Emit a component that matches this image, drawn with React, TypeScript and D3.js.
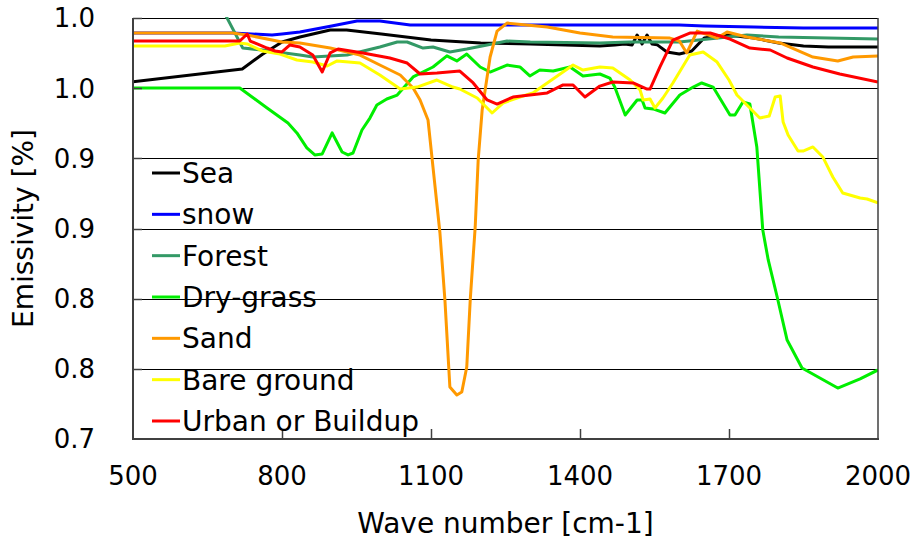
import React from "react";
import * as d3 from "d3";

type Pt = [number, number];

const seaData: Pt[] = [
  [500, 0.9545], [720, 0.9637], [760, 0.974], [800, 0.9829], [836, 0.9865], [897, 0.9914], [930, 0.9914],
  [1000, 0.9886], [1100, 0.9843], [1200, 0.9822], [1300, 0.9815], [1440, 0.98], [1470, 0.9808],
  [1490, 0.9815], [1505, 0.9808], [1515, 0.9879], [1525, 0.9815], [1535, 0.9879], [1545, 0.9815],
  [1555, 0.981], [1575, 0.9758], [1600, 0.9743], [1625, 0.9765], [1650, 0.9857], [1696, 0.9879],
  [1750, 0.9857], [1800, 0.9822], [1850, 0.98], [1900, 0.9793], [1950, 0.9793], [2000, 0.9793],
];

const snowData: Pt[] = [
  [500, 0.9893], [700, 0.9893], [780, 0.9879], [800, 0.9886], [836, 0.99], [900, 0.9943], [951, 0.9979],
  [997, 0.9979], [1058, 0.995], [1100, 0.995], [1200, 0.995], [1440, 0.995], [1600, 0.995],
  [1650, 0.9943], [1750, 0.9936], [1850, 0.9929], [2000, 0.9929],
];

const forestData: Pt[] = [
  [685, 1.003], [721, 0.9786], [760, 0.9772], [836, 0.9736], [862, 0.9722], [931, 0.9736], [997, 0.9793],
  [1032, 0.9829], [1052, 0.9829], [1084, 0.9786], [1104, 0.9793], [1138, 0.9758], [1172, 0.9779],
  [1213, 0.9808], [1253, 0.9836], [1300, 0.9829], [1440, 0.9822], [1500, 0.9829], [1600, 0.9829],
  [1736, 0.9879], [1800, 0.9865], [2000, 0.985],
];

const dryGrassData: Pt[] = [
  [500, 0.9501], [715, 0.9501], [770, 0.9359], [812, 0.9252], [830, 0.9181], [850, 0.9074], [866, 0.9024],
  [881, 0.9031], [901, 0.9181], [921, 0.9045], [933, 0.9024], [943, 0.9038], [961, 0.9202], [977, 0.9287],
  [991, 0.938], [1011, 0.9423], [1032, 0.9451], [1064, 0.958], [1104, 0.9651], [1132, 0.973],
  [1152, 0.9694], [1172, 0.9743], [1199, 0.9651], [1219, 0.9615], [1253, 0.9665], [1279, 0.9651],
  [1299, 0.9587], [1319, 0.9629], [1346, 0.9622], [1380, 0.9651], [1406, 0.9587], [1440, 0.9601],
  [1460, 0.9572], [1470, 0.9508], [1491, 0.9309], [1515, 0.9416], [1525, 0.9416], [1531, 0.9359],
  [1547, 0.9352], [1571, 0.9323], [1601, 0.9451], [1628, 0.9508], [1645, 0.9537], [1668, 0.9508],
  [1702, 0.9309], [1712, 0.9309], [1728, 0.9402], [1742, 0.9387], [1756, 0.9081], [1768, 0.8489],
  [1779, 0.8276], [1797, 0.8012], [1817, 0.7705], [1847, 0.7506], [1883, 0.7435], [1919, 0.7363],
  [1964, 0.7428], [2000, 0.7492],
];

const sandData: Pt[] = [
  [500, 0.9893], [700, 0.9893], [730, 0.9879], [800, 0.9829], [836, 0.9822], [897, 0.9786], [957, 0.9736],
  [997, 0.9665], [1038, 0.9594], [1064, 0.9501], [1078, 0.9416], [1094, 0.9273], [1104, 0.8938],
  [1118, 0.8468], [1128, 0.7991], [1138, 0.7371], [1152, 0.7314], [1162, 0.7335], [1172, 0.7513],
  [1179, 0.7991], [1189, 0.8511], [1195, 0.8988], [1203, 0.9344], [1219, 0.9722], [1233, 0.9907],
  [1253, 0.9964], [1334, 0.9936], [1400, 0.9893], [1466, 0.9865], [1581, 0.9857], [1600, 0.9836],
  [1615, 0.9751], [1636, 0.9907], [1676, 0.9857], [1696, 0.99], [1736, 0.9865], [1803, 0.9822],
  [1869, 0.9722], [1919, 0.9694], [1950, 0.9722], [2000, 0.9729],
];

const bareGroundData: Pt[] = [
  [500, 0.98], [685, 0.98], [715, 0.9822], [730, 0.9815], [760, 0.9765], [796, 0.9743], [830, 0.9701],
  [862, 0.9686], [891, 0.9658], [911, 0.9694], [957, 0.9679], [997, 0.9594], [1038, 0.9494],
  [1072, 0.9508], [1112, 0.9558], [1144, 0.9508], [1158, 0.9494], [1193, 0.943], [1223, 0.9323],
  [1245, 0.9394], [1279, 0.9437], [1305, 0.9466], [1334, 0.9537], [1386, 0.9665], [1406, 0.9629],
  [1440, 0.9651], [1466, 0.9644], [1501, 0.9558], [1521, 0.9487], [1527, 0.9416], [1541, 0.9423],
  [1551, 0.9359], [1567, 0.943], [1587, 0.9537], [1621, 0.9736], [1648, 0.9758], [1676, 0.9686],
  [1700, 0.9558], [1716, 0.9451], [1762, 0.9287], [1781, 0.9302], [1793, 0.9437], [1803, 0.9444],
  [1809, 0.9259], [1819, 0.9166], [1839, 0.9052], [1849, 0.9052], [1869, 0.9081], [1889, 0.9009],
  [1909, 0.8867], [1929, 0.8753], [1964, 0.8717], [1978, 0.871], [2000, 0.8682],
];

const urbanData: Pt[] = [
  [500, 0.9836], [715, 0.9836], [730, 0.9886], [736, 0.9836], [750, 0.9815], [770, 0.9786], [786, 0.9765],
  [800, 0.9758], [816, 0.9808], [836, 0.9793], [862, 0.9736], [881, 0.9615], [897, 0.9751], [913, 0.9779],
  [963, 0.9751], [1017, 0.9715], [1052, 0.9679], [1078, 0.9601], [1112, 0.9608], [1158, 0.9622],
  [1185, 0.9537], [1213, 0.9416], [1233, 0.9387], [1265, 0.9437], [1299, 0.9451], [1334, 0.9466],
  [1366, 0.9523], [1386, 0.9523], [1410, 0.9437], [1440, 0.9515], [1466, 0.9544], [1507, 0.9537],
  [1535, 0.9494], [1541, 0.9494], [1561, 0.9651], [1587, 0.9843], [1621, 0.9893], [1662, 0.9893],
  [1702, 0.985], [1742, 0.9786], [1783, 0.9772], [1817, 0.9715], [1869, 0.9651], [1923, 0.9601],
  [2000, 0.9544],
];

const seriesNames = ["Sea", "snow", "Forest", "Dry-grass", "Sand", "Bare ground", "Urban or Buildup"];
const seriesColors = ["#000000", "#0000ff", "#339966", "#00ee00", "#ff9900", "#ffff00", "#ff0000"];
const seriesData = [seaData, snowData, forestData, dryGrassData, sandData, bareGroundData, urbanData];

const xTicks = [500, 800, 1100, 1400, 1700, 2000];
const yTicks = [0.7, 0.75, 0.8, 0.85, 0.9, 0.95, 1.0];
const yTickLabels = ["0.7", "0.8", "0.8", "0.9", "0.9", "1.0", "1.0"];

const W = 916;
const H = 542;
const L = 133, R = 878, T = 18, B = 439;
const FONT = "'DejaVu Sans', Verdana, sans-serif";

export default function App() {
  const x = d3.scaleLinear().domain([500, 2000]).range([L, R]);
  const y = d3.scaleLinear().domain([0.7, 1.0]).range([B, T]);
  const line = d3.line<Pt>().x((d) => x(d[0])).y((d) => y(d[1]));
  const legendY = d3.scaleLinear().domain([0, 6]).range([173, 421]);

  return (
    <div style={{ position: "absolute", left: 0, top: 0 }}>
      <svg width={W} height={H} style={{ display: "block", background: "#fff" }} fontFamily={FONT}>
        <defs>
          <clipPath id="plotClip">
            <rect x={L} y={T - 1} width={R - L} height={B - T + 1} />
          </clipPath>
        </defs>
        {yTicks.map((v) => {
          const yy = Math.round(y(v)) + 0.5;
          return <line key={"g" + v} x1={L} x2={R} y1={yy} y2={yy} stroke="#000" strokeWidth={1} />;
        })}
        {seriesData.map((d, i) => (
          <path key={seriesNames[i]} d={line(d) || ""} fill="none" stroke={seriesColors[i]} strokeWidth={3}
            strokeLinejoin="round" clipPath="url(#plotClip)" />
        ))}
        {/* axes frame */}
        <line x1={L} x2={L} y1={T} y2={B + 1} stroke="#404040" strokeWidth={2} />
        <line x1={L - 1} x2={R + 1} y1={B} y2={B} stroke="#404040" strokeWidth={2} />
        <line x1={R} x2={R} y1={T} y2={B} stroke="#404040" strokeWidth={1.5} />
        {xTicks.slice(1, -1).map((v) => (
          <line key={"xt" + v} x1={Math.round(x(v)) + 0.5} x2={Math.round(x(v)) + 0.5} y1={B} y2={B - 10}
            stroke="#404040" strokeWidth={1.5} />
        ))}
        {yTicks.slice(1).map((v) => (
          <line key={"yt" + v} x1={L} x2={L + 9} y1={Math.round(y(v)) + 0.5} y2={Math.round(y(v)) + 0.5}
            stroke="#404040" strokeWidth={1.5} />
        ))}
        {yTicks.map((v, i) => (
          <text key={"yl" + v} x={95} y={y(v)} dy="0.36em" textAnchor="end" fontSize={26} fill="#000">
            {yTickLabels[i]}
          </text>
        ))}
        {xTicks.map((v) => (
          <text key={"xl" + v} x={x(v)} y={485} textAnchor="middle" fontSize={26} fill="#000">
            {v}
          </text>
        ))}
        <text x={(L + R) / 2} y={533} textAnchor="middle" fontSize={28} fill="#000">
          Wave number [cm-1]
        </text>
        <text transform={`translate(33,${(T + B) / 2}) rotate(-90)`} textAnchor="middle" fontSize={28} fill="#000">
          Emissivity [%]
        </text>
        {seriesNames.map((n, i) => (
          <g key={"lg" + n}>
            <line x1={152} x2={180} y1={legendY(i)} y2={legendY(i)} stroke={seriesColors[i]} strokeWidth={3} />
            <text x={182} y={legendY(i)} dy="0.36em" fontSize={28} fill="#000">
              {n}
            </text>
          </g>
        ))}
      </svg>
    </div>
  );
}
